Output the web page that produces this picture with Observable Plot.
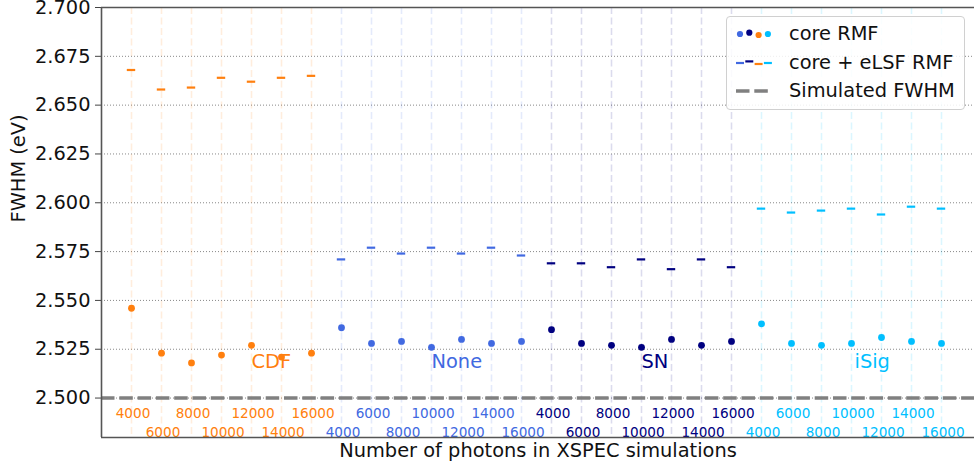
<!DOCTYPE html>
<html>
<head>
<meta charset="utf-8">
<script src="https://cdn.jsdelivr.net/npm/d3@7"></script>
<script src="https://cdn.jsdelivr.net/npm/@observablehq/plot@0.6"></script>
<style>
  html, body { margin: 0; padding: 0; background: #fff; overflow: hidden; width: 974px; height: 468px; }
  #wrap { position: relative; width: 974px; height: 468px; overflow: hidden; font-family: "DejaVu Sans", sans-serif; }
  #chart svg { max-width: none !important; }
  #legend { position: absolute; left: 726px; top: 16px; width: 237px; height: 92px; border: 1px solid #d0d0d0; border-radius: 4px; background: rgba(255,255,255,0.85); }
  #legend .row { position: absolute; left: 62px; font-size: 19.4px; color: #111; line-height: 22px; }
  #legend svg { position: absolute; left: 0; top: 0; }
</style>
</head>
<body>
<div id="wrap">
  <div id="chart"></div>
  <div id="legend"></div>
</div>
<script>
// ---- data ----
const methods = ["CDF", "None", "SN", "iSig"];
const methodColors = ["#ff7f0e", "#4169e1", "#000080", "#00bfff"];
const photons = [4000, 6000, 8000, 10000, 12000, 14000, 16000];
const yTicks = [2.500, 2.525, 2.550, 2.575, 2.600, 2.625, 2.650, 2.675, 2.700];
const simulatedFWHM = [2.500];

// core RMF (dots)
const coreCDF  = [2.546, 2.523, 2.518, 2.522, 2.527, 2.521, 2.523];
const coreNone = [2.536, 2.528, 2.529, 2.526, 2.530, 2.528, 2.529];
const coreSN   = [2.535, 2.528, 2.527, 2.526, 2.530, 2.527, 2.529];
const coreISig = [2.538, 2.528, 2.527, 2.528, 2.531, 2.529, 2.528];

// core + eLSF RMF (dash markers)
const elsfCDF  = [2.668, 2.658, 2.659, 2.664, 2.662, 2.664, 2.665];
const elsfNone = [2.571, 2.577, 2.574, 2.577, 2.574, 2.577, 2.573];
const elsfSN   = [2.569, 2.569, 2.567, 2.571, 2.566, 2.571, 2.567];
const elsfISig = [2.597, 2.595, 2.596, 2.597, 2.594, 2.598, 2.597];

const legendLabels = ["core RMF", "core + eLSF RMF", "Simulated FWHM"];
const xLabel = "Number of photons in XSPEC simulations";
const yLabel = "FWHM (eV)";

// ---- build table ----
const coreAll = [coreCDF, coreNone, coreSN, coreISig];
const elsfAll = [elsfCDF, elsfNone, elsfSN, elsfISig];
const rows = [];
methods.forEach((m, g) => {
  photons.forEach((p, j) => {
    rows.push({ method: m, g, idx: g * photons.length + j, photons: p,
                core: coreAll[g][j], elsf: elsfAll[g][j], color: methodColors[g] });
  });
});
const groups = methods.map((m, g) => ({ method: m, color: methodColors[g],
  pos: g * photons.length + (g === 0 ? 4 : 3) + (g === 3 ? 0.1 : 0) }));
const groupLabelY = 2.5185;

const xDomain = [-1, 28.1];
const yDomain = [2.4798, 2.7];

const chart = Plot.plot({
  width: 974, height: 468,
  marginLeft: 101, marginRight: 0, marginTop: 7, marginBottom: 31,
  x: { domain: xDomain, axis: null },
  y: { domain: yDomain, axis: null },
  color: { type: "identity" },
  style: { fontFamily: "DejaVu Sans, sans-serif", background: "white", overflow: "visible" },
  marks: [
    Plot.ruleY(yTicks, { stroke: "#888", strokeWidth: 1, strokeDasharray: "1,2" }),
    Plot.ruleX(rows, { x: "idx", stroke: "color", strokeOpacity: 0.14, strokeWidth: 1.6, strokeDasharray: "7,3.5" }),
    Plot.ruleY(simulatedFWHM, { stroke: "#808080", strokeWidth: 3.6, strokeDasharray: "13.5,4.8" }),
    Plot.ruleY(rows, { y: "elsf", x1: d => d.idx - 0.14, x2: d => d.idx + 0.14, stroke: "color", strokeWidth: 2.2 }),
    Plot.dot(rows, { x: "idx", y: "core", r: 3.4, fill: "color", stroke: "none" }),
    Plot.text(rows.filter(d => d.idx % 2 === 0), { x: "idx", frameAnchor: "bottom", dy: -19.5, dx: 1.5,
      text: d => String(d.photons), fill: "color", fontSize: 13.6 }),
    Plot.text(rows.filter(d => d.idx % 2 === 1), { x: "idx", frameAnchor: "bottom", dy: -0.5, dx: 1.5,
      text: d => String(d.photons), fill: "color", fontSize: 13.6 }),
    Plot.text(groups, { x: "pos", y: () => groupLabelY, text: "method", fill: "color",
      textAnchor: "start", fontSize: 19.4 }),
    Plot.axisY({ ticks: yTicks, tickFormat: d3.format(".3f"), tickSize: 6, tickPadding: 5,
      fontSize: 19.4, label: null, color: "#111", stroke: "#444" }),
    Plot.text([yLabel], { frameAnchor: "left", rotate: -90, dx: -83, fontSize: 19.4, fill: "#111" }),
    Plot.text([xLabel], { frameAnchor: "bottom", dy: 19.5, dx: 0, fontSize: 19.4, fill: "#111" }),
    // spines: left, top, bottom (no right spine visible)
    Plot.ruleX([xDomain[0]], { stroke: "#555", strokeWidth: 1.6 }),
    Plot.ruleY([yDomain[0], yDomain[1]], { stroke: "#555", strokeWidth: 1.6 })
  ]
});
document.getElementById("chart").appendChild(chart);

// ---- legend ----
const leg = document.getElementById("legend");
const rowY = [17, 46, 74];
const ns = "http://www.w3.org/2000/svg";
const svg = document.createElementNS(ns, "svg");
svg.setAttribute("width", 237); svg.setAttribute("height", 92);
const dotOffsets = [0, -1.3, 1, 0];
const dashOffsets = [0, -1.6, 1, 0];
const legOrder = [1, 2, 0, 3]; // royalblue, navy, orange, deepskyblue
legOrder.forEach((g, k) => {
  const c = document.createElementNS(ns, "circle");
  c.setAttribute("cx", 13 + k * 9.3); c.setAttribute("cy", rowY[0] + dotOffsets[k]);
  c.setAttribute("r", 3.1); c.setAttribute("fill", methodColors[g]);
  svg.appendChild(c);
  const l = document.createElementNS(ns, "line");
  l.setAttribute("x1", 9 + k * 9.3); l.setAttribute("x2", 17 + k * 9.3);
  l.setAttribute("y1", rowY[1] + dashOffsets[k]); l.setAttribute("y2", rowY[1] + dashOffsets[k]);
  l.setAttribute("stroke", methodColors[g]); l.setAttribute("stroke-width", 2.2);
  svg.appendChild(l);
});
const gl = document.createElementNS(ns, "line");
gl.setAttribute("x1", 9); gl.setAttribute("x2", 44);
gl.setAttribute("y1", rowY[2]); gl.setAttribute("y2", rowY[2]);
gl.setAttribute("stroke", "#808080"); gl.setAttribute("stroke-width", 3.6);
gl.setAttribute("stroke-dasharray", "13.5,4.8");
svg.appendChild(gl);
leg.appendChild(svg);
legendLabels.forEach((t, k) => {
  const d = document.createElement("div");
  d.className = "row";
  d.style.top = (rowY[k] - 11) + "px";
  d.textContent = t;
  leg.appendChild(d);
});
</script>
</body>
</html>
